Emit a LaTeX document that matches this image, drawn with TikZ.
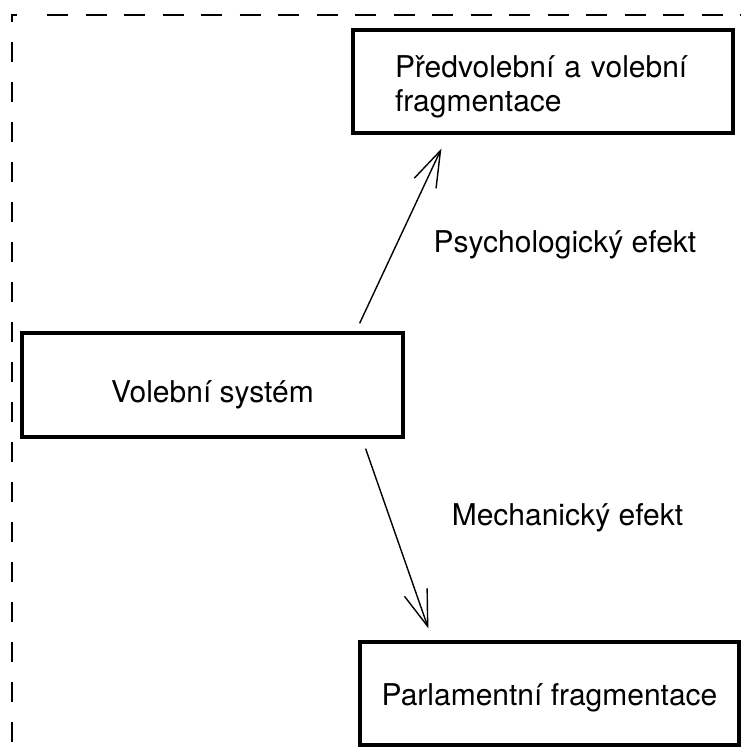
\documentclass[tikz,border=0pt]{standalone}
\usepackage{fontspec}
\setmainfont{TeX Gyre Heros}
\usetikzlibrary{arrows.meta, calc}

\begin{document}
\begin{tikzpicture}[x=.5pt, y=-.5pt, >={Straight Barb[length=18pt,width=12pt]},
  box/.style={draw, line width=1.6pt, inner sep=0pt},
  frame/.style={line width=.9pt},
  every node/.style={font=\fontsize{15}{17}\selectfont}]
\useasboundingbox (0,0) rectangle (741,751);
% dashed frame, cut by the page
\draw[frame, dash pattern=on 10pt off 10pt, dash phase=4pt](17,15)--(12,15)--(12,751);
\draw[frame, dash pattern=on 10.5pt off 8.75pt](47,15)--(741,15);
\node (system)[box, minimum width=190.5pt, minimum height=52pt, text height=20pt, text depth=3pt] at (212.5,385) {Volební systém};
\node (predvol)[box, minimum width=190pt, minimum height=51.5pt, text width=148pt, align=left, text height=16pt, text depth=20.5pt] at (543,81.5) {Předvolební a volební\\fragmentace};
\node (parl)[box, minimum width=189.5pt, minimum height=51.5pt, text height=15pt, text depth=3pt] at (549.5,693.5) {Parlamentní fragmentace};
\draw[->, line width=.7pt]($(system.north east)+(-45,-8)$)--($(predvol.south west)+(90,14)$);
\draw[->, line width=.7pt]($(system.south east)+(-39,10)$)--($(parl.north west)+(70,-12)$);
\node (psych)[anchor=base] at (565,252) {Psychologický efekt};
\node (mech)[anchor=base] at (567.5,525) {Mechanický efekt};
\end{tikzpicture}
\end{document}
